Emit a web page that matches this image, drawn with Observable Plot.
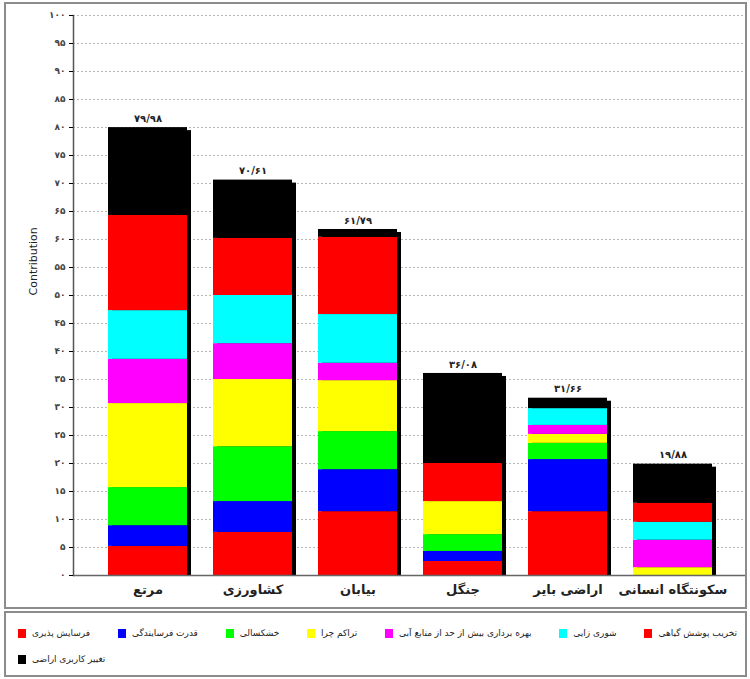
<!DOCTYPE html>
<html>
<head>
<meta charset="utf-8">
<script src="https://cdn.jsdelivr.net/npm/d3@7"></script>
<script src="https://cdn.jsdelivr.net/npm/@observablehq/plot@0.6"></script>
<style>
  body { margin: 0; background: #fff; font-family: "DejaVu Sans", sans-serif; }
  #wrap { position: relative; width: 750px; height: 679px; }
  #wrap svg { position: absolute; left: 0; top: 0; }
  #box { position: absolute; left: 4px; top: 2px; width: 739px; height: 603px; border: 2px solid #8c8c8c; pointer-events: none; }
  #legend { position: absolute; left: 4px; top: 611px; width: 739px; height: 62px; border: 2px solid #8c8c8c; box-sizing: content-box; }
  .row { display: flex; align-items: center; padding: 0 8px 0 12px; height: 22px; font-size: 9px; color: #222; }
  .row1 { justify-content: space-between; margin-top: 9px; }
  .row2 { margin-top: 4px; }
  .item { display: flex; align-items: center; gap: 6px; white-space: nowrap; }
  .sw { width: 8px; height: 9px; display: inline-block; }
</style>
</head>
<body>
<div id="wrap">
  <div id="box"></div>
  <div id="legend"></div>
</div>
<script>
const categories = ["مرتع", "کشاورزی", "بیابان", "جنگل", "اراضی بایر", "سکونتگاه انسانی"];
const seriesNames = [
  "فرسایش پذیری",
  "قدرت فرسایندگی",
  "خشکسالی",
  "تراکم چرا",
  "بهره برداری بیش از حد از منابع آبی",
  "شوری زایی",
  "تخریب پوشش گیاهی",
  "تغییر کاربری اراضی"
];
const seriesColors = ["#ff0000", "#0000ff", "#00ff00", "#ffff00", "#ff00ff", "#00ffff", "#ff0000", "#000000"];

const erodibility   = [5.2, 7.7, 11.4, 2.5, 11.4, 0];
const erosivity     = [3.7, 5.5, 7.5, 1.8, 9.3, 0];
const drought       = [6.8, 9.8, 6.8, 3.0, 2.9, 0];
const grazing       = [15.0, 12.0, 9.1, 5.9, 1.6, 1.4];
const waterOveruse  = [7.9, 6.4, 3.1, 0, 1.6, 4.9];
const salinization  = [8.7, 8.6, 8.7, 0, 3.0, 3.2];
const vegetationLoss= [17.0, 10.2, 13.8, 6.8, 0, 3.4];
const landUseChange = [15.68, 10.41, 1.39, 16.08, 1.86, 6.98];
const totals = [79.98, 70.61, 61.79, 36.08, 31.66, 19.88];
const yTicks = d3.range(0, 101, 5);

const seriesValues = [erodibility, erosivity, drought, grazing, waterOveruse, salinization, vegetationLoss, landUseChange];
const table = [];
seriesNames.forEach((s, i) => categories.forEach((c, j) => table.push({category: c, series: s, value: seriesValues[i][j]})));
const totalRows = categories.map((c, j) => ({category: c, total: totals[j]}));

const fa = s => String(s).replace(/\d/g, d => "۰۱۲۳۴۵۶۷۸۹"[d]);
const faDec = v => fa(v.toFixed(2)).replace(".", "/");

const chart = Plot.plot({
  width: 750,
  height: 605,
  marginTop: 15,
  marginBottom: 30,
  marginLeft: 73,
  marginRight: 5,
  style: {background: "transparent", fontFamily: "DejaVu Sans, sans-serif"},
  x: {domain: categories, paddingInner: 0.25, paddingOuter: 0.125, insetLeft: 19.5, insetRight: 17, label: null},
  y: {domain: [0, 100], label: null},
  color: {domain: seriesNames, range: seriesColors},
  marks: [
    Plot.gridY(yTicks, {stroke: "#b8b8b8", strokeOpacity: 1, strokeDasharray: "2,2"}),
    Plot.barY(totalRows, {x: "category", y: "total", fill: "#000", dx: 4, dy: 3, insetBottom: 3}),
    Plot.barY(table, Plot.stackY({x: "category", y: "value", fill: "series", order: null})),
    Plot.text(totalRows, {x: "category", y: "total", text: d => faDec(d.total), dy: -9, fontSize: 10, fontWeight: "bold", fill: "#222"}),
    Plot.ruleY([0], {stroke: "#666", strokeWidth: 1.5}),
    Plot.frame({anchor: "left", stroke: "#555", strokeWidth: 1.5}),
    Plot.axisY(yTicks, {tickSize: 4, tickPadding: 4, tickFormat: fa, fontSize: 9, fontWeight: "bold", fill: "#444", label: null}),
    Plot.axisX({tickSize: 0, tickPadding: 9, fontSize: 13, fontWeight: "bold", fill: "#222", label: null}),
    Plot.text(["Contribution"], {frameAnchor: "left", dx: -40, rotate: -90, fontSize: 11, fill: "#222", dy: 0})
  ]
});
document.getElementById("wrap").appendChild(chart);

const legend = document.getElementById("legend");
const row1 = document.createElement("div"); row1.className = "row row1";
const row2 = document.createElement("div"); row2.className = "row row2";
seriesNames.forEach((s, i) => {
  const it = document.createElement("span"); it.className = "item";
  const sw = document.createElement("span"); sw.className = "sw"; sw.style.background = seriesColors[i];
  const tx = document.createElement("span"); tx.textContent = s; tx.dir = "rtl";
  it.appendChild(sw); it.appendChild(tx);
  (i < 7 ? row1 : row2).appendChild(it);
});
legend.appendChild(row1); legend.appendChild(row2);
</script>
</body>
</html>
